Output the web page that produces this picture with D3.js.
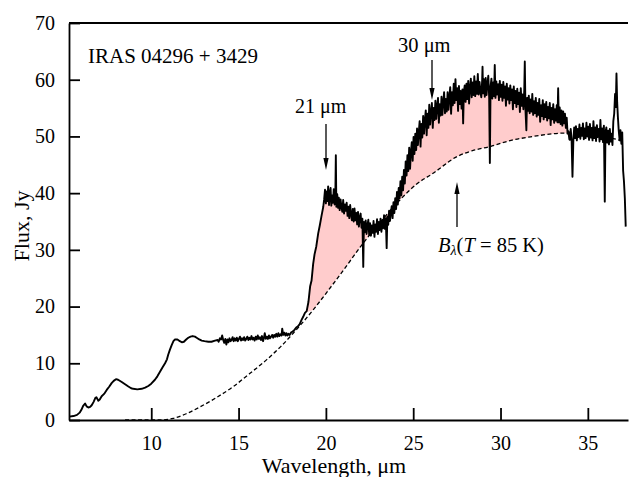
<!DOCTYPE html>
<html>
<head>
<meta charset="utf-8">
<script src="https://cdn.jsdelivr.net/npm/d3@7"></script>
<style>
  body { margin: 0; background: #fff; }
  text { font-family: "Liberation Serif", "Times New Roman", serif; }
</style>
</head>
<body>
<div id="chart"></div>
<script>
// spectrum, [wavelength um, flux Jy]
var specSmooth = [[5.30,0.6],[5.55,0.7],[5.75,0.9],[5.9,1.3],[6.0,1.8],[6.1,2.5],[6.21,2.9],[6.3,2.4],[6.4,2.2],[6.5,2.3],[6.59,2.6],[6.7,3.2],[6.8,3.9],[6.86,4.0],[6.97,3.4],[7.05,3.6],[7.16,4.2],[7.3,4.6],[7.45,5.3],[7.6,5.9],[7.73,6.5],[7.85,6.9],[7.98,7.2],[8.1,7.1],[8.31,6.7],[8.5,6.3],[8.69,5.9],[8.85,5.6],[8.97,5.5],[9.2,5.4],[9.45,5.5],[9.65,5.7],[9.83,6.0],[10.0,6.4],[10.21,7.1],[10.35,7.7],[10.5,8.5],[10.65,9.3],[10.79,10.0],[10.9,10.7],[10.97,11.5],[11.07,12.4],[11.17,13.2],[11.27,13.9],[11.36,14.2],[11.5,14.2],[11.64,13.9],[11.75,13.7],[11.87,13.8],[12.0,14.2],[12.12,14.5],[12.25,14.7],[12.37,14.8],[12.5,14.7],[12.6,14.5],[12.75,14.2],[12.89,14.0],[13.05,13.9],[13.27,13.8],[13.45,13.8],[13.65,14.0]];

var specNoisy = [[13.8,14.1],[13.86,13.8],[13.93,14.4],[14.0,14.2],[14.06,14.9],[14.12,14.1],[14.18,13.6],[14.24,14.3],[14.3,13.3],[14.36,14.2],[14.42,13.7],[14.48,14.4],[14.54,13.9],[14.6,14.1],[14.66,14.6],[14.72,13.9],[14.78,14.4],[14.84,14.0],[14.9,14.5],[14.96,13.9],[15.02,14.3],[15.08,14.7],[15.14,14.0],[15.2,14.4],[15.26,14.1],[15.32,14.6],[15.38,14.0],[15.44,14.3],[15.5,14.7],[15.56,14.1],[15.62,14.5],[15.68,14.2],[15.74,14.8],[15.8,14.2],[15.86,14.5],[15.92,14.0],[15.98,14.7],[16.04,14.2],[16.1,14.9],[16.16,14.3],[16.22,14.6],[16.28,14.1],[16.34,14.8],[16.4,13.9],[16.46,14.6],[16.5,15.3],[16.56,14.3],[16.62,14.7],[16.68,14.3],[16.74,14.9],[16.8,14.4],[16.86,14.7],[16.92,15.0],[16.98,14.5],[17.04,15.0],[17.1,14.7],[17.16,15.2],[17.22,14.7],[17.28,15.3],[17.34,14.8],[17.4,15.1],[17.46,14.9],[17.5,16.1],[17.56,15.0],[17.62,15.4],[17.68,14.9],[17.74,15.3],[17.8,14.9],[17.86,15.2],[17.92,15.0],[18.0,15.4],[18.1,15.6],[18.2,15.9],[18.3,16.3],[18.4,16.5],[18.5,16.9],[18.6,17.6],[18.7,18.2]];

var specBand = [[18.8,18.9],[18.9,19.2],[19.0,20.8],[19.1,23.6],[19.18,24.6],[19.27,27.5],[19.35,29.2],[19.45,30.6],[19.56,32.9],[19.65,34.3],[19.75,36.0],[19.85,37.6],[19.9,38.9],[19.95,40.6],[20.0,38.2],[20.04,40.3],[20.09,38.6],[20.13,41.2],[20.18,37.9],[20.22,39.9],[20.27,40.9],[20.31,37.8],[20.36,39.6],[20.41,38.3],[20.45,40.7],[20.5,38.0],[20.54,39.3],[20.57,46.7],[20.6,37.6],[20.65,39.8],[20.7,37.4],[20.74,39.2],[20.79,37.0],[20.84,38.9],[20.89,37.6],[20.94,36.7],[20.99,38.8],[21.04,36.4],[21.09,38.0],[21.14,36.9],[21.19,38.3],[21.24,36.0],[21.29,37.6],[21.34,35.6],[21.39,37.9],[21.44,36.3],[21.49,35.2],[21.54,37.2],[21.59,35.0],[21.64,37.3],[21.69,35.2],[21.74,36.5],[21.79,34.5],[21.84,36.7],[21.89,34.1],[21.94,35.7],[21.99,36.4],[22.04,33.9],[22.09,35.5],[22.14,27.0],[22.18,34.9],[22.23,33.1],[22.28,35.2],[22.33,32.8],[22.38,34.4],[22.43,35.3],[22.48,32.6],[22.53,34.7],[22.58,32.5],[22.63,34.3],[22.68,33.0],[22.73,35.1],[22.78,32.3],[22.83,34.5],[22.88,33.2],[22.93,35.4],[22.98,32.8],[23.03,34.9],[23.08,33.5],[23.13,35.5],[23.18,33.2],[23.23,35.2],[23.28,33.8],[23.33,36.1],[23.38,33.7],[23.43,35.6],[23.48,30.3],[23.52,35.9],[23.57,34.4],[23.62,36.9],[23.67,35.1],[23.72,36.5],[23.77,37.7],[23.82,35.6],[23.87,38.4],[23.92,36.5],[23.97,39.1],[24.02,37.2],[24.07,40.2],[24.12,38.0],[24.17,40.9],[24.22,39.1],[24.27,42.1],[24.32,39.6],[24.37,42.9],[24.42,40.5],[24.47,44.1],[24.52,41.7],
[24.57,45.6],[24.62,43.1],[24.67,46.7],[24.72,43.9],[24.77,48.0],[24.82,44.3],[24.87,47.3],[24.92,49.0],[24.97,45.7],[25.02,49.9],[25.07,46.9],[25.12,50.5],[25.17,47.6],[25.22,51.4],[25.27,48.5],[25.32,50.8],[25.37,52.7],[25.42,48.2],[25.47,52.2],[25.52,49.8],[25.57,53.6],[25.62,50.5],[25.67,52.9],[25.72,54.6],[25.77,50.2],[25.82,54.0],[25.87,51.5],[25.92,55.6],[25.97,52.1],[26.02,54.3],[26.07,55.9],[26.12,51.5],[26.17,55.0],[26.22,52.9],[26.27,56.3],[26.32,53.1],[26.37,55.3],[26.42,56.8],[26.47,52.4],[26.52,55.7],[26.57,53.7],[26.62,57.0],[26.67,53.8],[26.72,56.1],[26.77,57.8],[26.82,54.1],[26.87,56.6],[26.92,54.4],[26.97,57.8],[27.02,54.7],[27.07,57.0],[27.12,58.7],[27.17,54.0],[27.22,57.8],[27.27,55.5],[27.32,59.3],[27.37,55.9],[27.42,60.1],[27.47,56.4],[27.52,58.5],[27.57,54.5],[27.62,58.9],[27.67,55.7],[27.72,58.0],[27.77,54.9],[27.82,58.3],[27.86,52.3],[27.9,57.8],[27.95,59.0],[28.0,56.1],[28.05,59.3],[28.1,56.6],[28.15,59.8],[28.2,55.8],[28.25,58.6],[28.3,60.2],[28.35,56.9],[28.4,59.5],[28.45,57.3],[28.5,60.6],[28.55,57.1],[28.6,59.7],[28.65,57.5],[28.7,61.0],[28.75,57.4],[28.8,59.6],[28.85,57.8],[28.9,56.9],[28.95,60.0],[28.97,62.3],[29.0,57.6],[29.05,60.1],[29.1,57.0],[29.15,60.3],[29.2,57.3],[29.25,59.3],[29.3,60.7],[29.35,56.9],[29.39,45.3],[29.43,58.8],[29.48,60.2],[29.53,56.7],[29.58,59.5],[29.63,57.1],[29.67,62.6],[29.71,56.8],[29.76,59.7],[29.81,57.4],[29.86,59.2],[29.91,56.4],[29.96,59.8],[30.01,57.0],[30.06,59.1],[30.11,56.3],[30.16,59.6],[30.21,56.8],[30.26,58.8],[30.31,55.4],[30.36,59.3],[30.41,56.5],[30.46,58.5],[30.51,55.8],[30.56,59.0],[30.61,56.4],[30.66,58.3],[30.71,54.8],[30.76,58.8],[30.81,55.9],[30.86,58.0],[30.91,55.2],[30.96,58.4],[31.01,55.7],[31.06,57.7],[31.11,54.3],[31.16,58.5],[31.21,55.4],[31.26,57.4],[31.31,54.8],[31.36,58.2],[31.39,63.2],[31.43,54.6],[31.48,51.1],[31.52,56.8],[31.57,54.5],[31.62,57.2],[31.67,54.1],[31.72,56.5],[31.77,54.4],[31.82,57.5],[31.87,53.8],[31.92,56.2],[31.97,54.1],[32.02,56.8],[32.07,53.5],[32.12,55.9],[32.17,53.8],[32.22,56.6],[32.27,52.6],[32.32,55.5],[32.37,53.6],[32.42,56.4],[32.47,53.0],[32.52,55.7],[32.57,53.4],[32.62,56.1],[32.67,52.8],[32.72,55.2],[32.77,53.2],[32.82,55.9],[32.87,52.0],[32.92,55.0],[32.97,53.0],[33.02,55.7],[33.07,52.4],[33.12,54.8],[33.17,52.8],[33.22,55.5],[33.26,52.5],[33.3,58.5],[33.34,52.5],[33.39,55.1],[33.44,52.2],[33.49,54.6],[33.54,51.9],[33.59,54.4],[33.64,52.3],[33.69,54.0],[33.74,51.5],[33.79,53.3],[33.84,50.5],[33.89,50.9],[33.94,49.5],[33.97,49.4]];

var specTail = [[34.02,51.3],[34.07,49.4],[34.12,42.9],[34.17,49.2],[34.22,51.6],[34.27,49.7],[34.32,51.8],[34.37,49.3],[34.42,51.3],[34.47,49.9],[34.52,52.1],[34.57,49.6],[34.62,51.5],[34.67,50.1],[34.72,52.3],[34.77,49.5],[34.82,51.4],[34.87,49.7],[34.92,52.4],[34.97,50.0],[35.02,51.7],[35.07,49.4],[35.12,52.2],[35.17,49.8],[35.22,51.5],[35.27,49.3],[35.32,52.7],[35.37,49.7],[35.42,51.6],[35.47,49.2],[35.52,52.0],[35.57,49.9],[35.62,51.3],[35.67,49.1],[35.72,52.9],[35.77,49.5],[35.82,51.4],[35.87,49.0],[35.92,51.9],[35.97,38.5],[36.01,50.7],[36.06,51.6],[36.11,48.9],[36.16,51.0],[36.21,48.6],[36.26,51.3],[36.31,49.1],[36.36,50.5],[36.41,48.5],[36.46,52.7],[36.51,54.0],[36.56,57.5],[36.6,55.2],[36.64,61.1],[36.68,56.0],[36.72,53.5],[36.77,51.0],[36.82,49.3],[36.87,51.1],[36.92,48.7],[36.97,50.7],[37.02,44.0],[37.07,42.0],[37.12,39.0],[37.17,34.1]];

// blackbody B(T = 85 K)
var bbCurve = [[8.5,0],[9.5,0],[10.5,0],[11.26,0.3],[12.0,1.1],[12.79,2.3],[13.7,3.9],[14.7,5.9],[15.6,8.1],[16.6,10.6],[17.4,12.9],[18.13,15.3],[18.7,17.3],[19.27,19.4],[20.0,22.3],[21.0,26.4],[22.14,31.2],[23.2,35.2],[24.24,38.8],[25.2,41.6],[26.14,43.5],[27.48,46.4],[28.4,47.5],[29.39,48.2],[30.6,49.3],[31.87,50.0],[32.8,50.4],[33.78,50.6],[34.5,50.5],[35.3,50.3],[36.2,49.8],[37.1,49.1]];

var xTicks = [10, 15, 20, 25, 30, 35];
var yTicks = [0, 10, 20, 30, 40, 50, 60, 70];

var width = 629, height = 477;
var margin = {top: 23, right: 1, bottom: 57, left: 69};

var svg = d3.select("#chart").append("svg")
    .attr("width", width)
    .attr("height", height)
    .attr("font-family", '"Liberation Serif", serif');

var x = d3.scaleLinear()
    .domain([5.29, 37.3])
    .range([margin.left, width - margin.right]);

var y = d3.scaleLinear()
    .domain([0, 70])
    .range([height - margin.bottom, margin.top]);

var spectrum = specSmooth.concat(specNoisy, specBand, specTail);

var line = d3.line()
    .x(function (d) { return x(d[0]); })
    .y(function (d) { return y(d[1]); });

// pink excess between spectrum and blackbody
var bbPart = bbCurve.filter(function (d) { return d[0] > 18.8 && d[0] < 33.97; }).reverse();
svg.append("path")
    .attr("d", line(specBand.concat(bbPart)) + "Z")
    .attr("fill", "#ffcccc")
    .attr("stroke", "none");

svg.append("path")
    .attr("d", d3.line().x(function (d) { return x(d[0]); })
        .y(function (d) { return y(d[1]); })
        .curve(d3.curveMonotoneX)(bbCurve))
    .attr("fill", "none")
    .attr("stroke", "#000")
    .attr("stroke-width", 1.3)
    .attr("stroke-dasharray", "4,2.5");

svg.append("path")
    .attr("d", line(spectrum))
    .attr("fill", "none")
    .attr("stroke", "#000")
    .attr("stroke-width", 1.9)
    .attr("stroke-linejoin", "round");

//axes
var yAxis = d3.axisLeft(y)
    .tickValues(yTicks)
    .tickSize(-11)
    .tickSizeOuter(0)
    .tickPadding(14);

var gy = svg.append("g")
    .attr("transform", "translate(" + margin.left + ",0)")
    .call(yAxis);

var xAxis = d3.axisBottom(x)
    .tickValues(xTicks)
    .tickSize(-12)
    .tickSizeOuter(0)
    .tickPadding(16);

var gx = svg.append("g")
    .attr("transform", "translate(0," + (height - margin.bottom) + ")")
    .call(xAxis);

[gx, gy].forEach(function (g) {
    g.attr("font-family", '"Liberation Serif", serif');
    g.selectAll("path, line").attr("stroke", "#000").attr("stroke-width", 1.8);
    g.selectAll("text")
        .style("font-size", "20px")
        .attr("fill", "#000");
});

// top frame line
svg.append("line")
    .attr("x1", margin.left).attr("x2", width - margin.right)
    .attr("y1", margin.top).attr("y2", margin.top)
    .attr("stroke", "#000")
    .attr("stroke-width", 1.8);

svg.append("text")
    .attr("x", 334)
    .attr("y", 473)
    .attr("text-anchor", "middle")
    .style("font-size", "22px")
    .text("Wavelength, μm");

svg.append("text")
    .attr("transform", "translate(29,226) rotate(-90)")
    .attr("text-anchor", "middle")
    .style("font-size", "22px")
    .text("Flux, Jy");

svg.append("text")
    .attr("x", 88)
    .attr("y", 63)
    .style("font-size", "21px")
    .text("IRAS 04296 + 3429");

// arrows with labels
function arrow(x0, yFrom, yTo) {
    var dir = yTo > yFrom ? 1 : -1;
    svg.append("line")
        .attr("x1", x0).attr("x2", x0)
        .attr("y1", yFrom).attr("y2", yTo - dir * 8)
        .attr("stroke", "#000")
        .attr("stroke-width", 1.3);
    svg.append("path")
        .attr("d", "M" + (x0 - 2.6) + "," + (yTo - dir * 12) +
            "L" + x0 + "," + yTo +
            "L" + (x0 + 2.6) + "," + (yTo - dir * 12) + "Z")
        .attr("fill", "#000");
}

arrow(326, 124, 170);
arrow(432, 60, 100);
arrow(457, 227, 182);

svg.append("text")
    .attr("x", 295).attr("y", 113)
    .style("font-size", "20px")
    .text("21 μm");

svg.append("text")
    .attr("x", 398).attr("y", 52)
    .style("font-size", "20.5px")
    .text("30 μm");

var bl = svg.append("text")
    .attr("x", 438).attr("y", 252)
    .style("font-size", "20.5px");
bl.append("tspan").style("font-style", "italic").text("B");
bl.append("tspan").style("font-style", "italic").style("font-size", "14px").attr("dy", 3).text("λ");
bl.append("tspan").attr("dy", -3).text("(");
bl.append("tspan").style("font-style", "italic").text("T");
bl.append("tspan").text(" = 85 K)");
</script>
</body>
</html>
